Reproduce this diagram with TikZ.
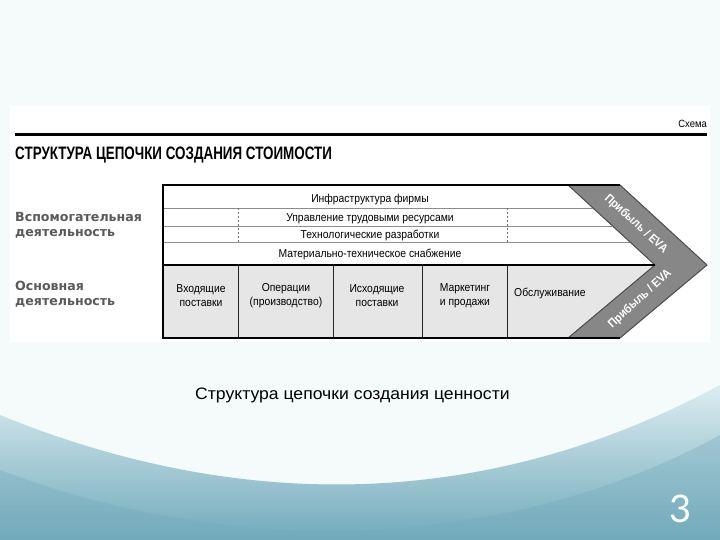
\documentclass[tikz,border=0pt]{standalone}
\usepackage{fontspec}
\usepackage{graphicx}
\setmainfont{Liberation Sans}
\newfontfamily\narrowfont[FakeStretch=0.9]{Liberation Sans}
\newfontfamily\sidefont{DejaVu Sans}
\newfontfamily\pagefont{Lato}
\usetikzlibrary{positioning}

\definecolor{bgtop}{HTML}{F5FAFB}
\definecolor{bgmid}{HTML}{DCEDF1}
\definecolor{bgteal}{HTML}{72AABB}
\definecolor{bandgray}{HTML}{878787}
\definecolor{primgray}{HTML}{E6E6E6}
\definecolor{sidegray}{HTML}{5A5A5A}

\begin{document}
\begin{tikzpicture}[
    x=1pt, y=-1pt,
    rowtext/.style={font=\narrowfont\fontsize{11.5}{13}\selectfont, inner sep=0pt, anchor=base},
    coltext/.style={font=\narrowfont\fontsize{11.5}{14}\selectfont, align=center, inner sep=0pt},
    sidelabel/.style={font=\sidefont\bfseries\fontsize{12.6}{15}\selectfont, text=sidegray, align=left, anchor=west, inner sep=0pt},
    profit/.style={font=\narrowfont\bfseries\fontsize{12}{13}\selectfont, text=white, inner sep=0pt},
    rowline/.style={draw=black!45, line width=0.8pt},
    supdash/.style={draw=black!55, line width=0.8pt, dash pattern=on 2pt off 2pt},
    coldiv/.style={draw=black!85, line width=1pt},
    frame/.style={draw=black, line width=1.6pt}
]

% Slide background
\begin{scope}
\clip (0,0) rectangle (720,540);
\fill[bgtop] (0,0) rectangle (720,540);
\shade[top color=bgmid, bottom color=bgteal]
    (0,415) .. controls (220,505) and (470,520) .. (720,385) -- (720,540) -- (0,540) -- cycle;
\fill[bgteal, opacity=0.35]
    (0,470) .. controls (250,565) and (520,545) .. (720,435) -- (720,540) -- (0,540) -- cycle;
\end{scope}
\fill[white] (10,106) rectangle (710,342);

% Header
\node[anchor=base east, font=\narrowfont\fontsize{10.5}{12}\selectfont, inner sep=0pt] (schema) at (707,128) {Схема};
\coordinate (ruleL) at (15,135);
\coordinate (ruleR) at (707,135);
\draw[line width=3pt] (ruleL) -- (ruleR);
\node[anchor=base west, inner sep=0pt] (title) at (15,160)
    {\scalebox{0.745}[1]{\bfseries\fontsize{18}{20}\selectfont СТРУКТУРА ЦЕПОЧКИ СОЗДАНИЯ СТОИМОСТИ}};

% Side labels
\node[sidelabel] (support) at (15,225) {Вспомогательная\\деятельность};
\node[sidelabel] (primary) at (15,294) {Основная\\деятельность};

% Primary activities area
\fill[primgray] (163,265) -- (655,265) -- (568,338) -- (163,338) -- cycle;

% Profit chevron
\fill[bandgray] (568,185) -- (620,185) -- (707,265) -- (620,338) -- (568,338) -- (655,265) -- cycle;
\draw[black!70, line width=1pt, line join=miter] (620,185) -- (707,265) -- (620,338);
\draw[black!70, line width=1pt] (568,185) -- (655,265) -- (568,338);

% Support rows
\draw[rowline] (163,208) -- (593,208);
\draw[rowline] (163,226) -- (613,226);
\draw[rowline] (163,242) -- (630,242);
\draw[supdash] (238,208) -- (238,242);
\draw[supdash] (507,208) -- (507,242);

% Primary columns
\draw[coldiv] (238,265) -- (238,338);
\draw[coldiv] (333,265) -- (333,338);
\draw[coldiv] (422,265) -- (422,338);
\draw[coldiv] (507,265) -- (507,338);

% Frame
\draw[frame] (163,265) -- (655,265);
\draw[frame] (620,185) -- (163,185) -- (163,338) -- (620,338);

% Row texts
\node[rowtext] (infra) at (370,203) {Инфраструктура фирмы};
\node[rowtext] (hrm) at (370,222) {Управление трудовыми ресурсами};
\node[rowtext] (techdev) at (370,238) {Технологические разработки};
\node[rowtext] (procure) at (370,257) {Материально-техническое снабжение};

% Column texts
\node[coltext] (inbound) at (201,296) {Входящие\\поставки};
\node[coltext] (operations) at (286,296) {Операции\\(производство)};
\node[coltext] (outbound) at (377,296) {Исходящие\\поставки};
\node[coltext] (marketing) at (465,296) {Маркетинг\\и продажи};
\node[coltext, anchor=west] (service) at (514,293) {Обслуживание};

% Margin labels
\node[profit, rotate=-42.4] (profitup) at (636,224) {Прибыль / EVA};
\node[profit, rotate=42.4] (profitdown) at (640,299) {Прибыль / EVA};

% Caption and page number
\node[anchor=base west, font=\fontsize{17.6}{19}\selectfont, inner sep=0pt] (caption) at (195,399)
    {\scalebox{1}[0.94]{Структура цепочки создания ценности}};
\node[font=\pagefont\fontsize{38}{40}\selectfont, text=white, inner sep=0pt] (pagenum) at (681,509) {3};

\pgfresetboundingbox
\path[use as bounding box] (0,0) rectangle (720,540);
\end{tikzpicture}
\end{document}
